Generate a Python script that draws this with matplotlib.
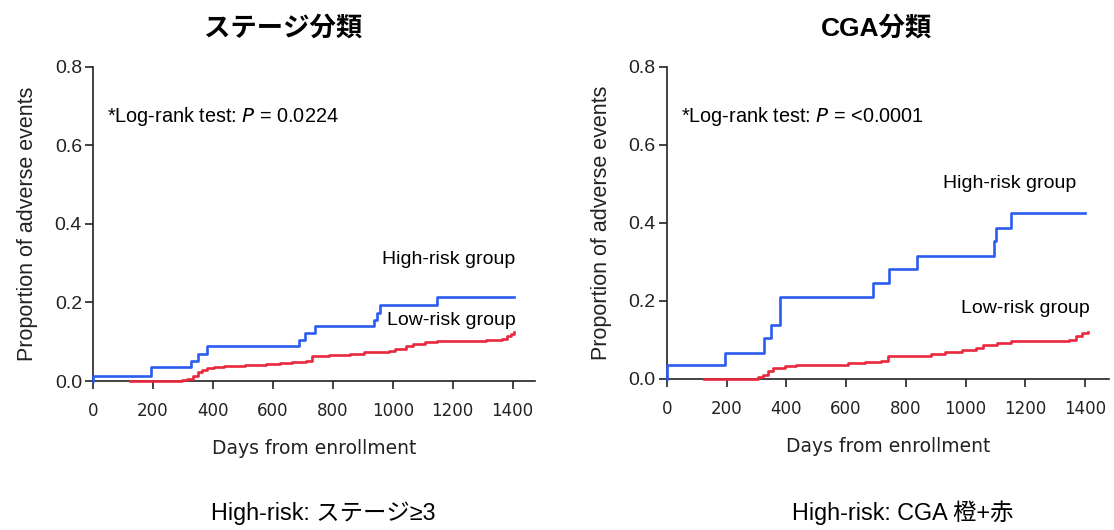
import numpy as np
import matplotlib
matplotlib.use("Agg")
import matplotlib.pyplot as plt

# ステージ分類
stage_high_days = [0, 0, 195, 327, 350, 379, 688, 708, 741, 939, 948, 957, 1147, 1406]
stage_high_prop = [0, 0.013, 0.036, 0.050, 0.068, 0.088, 0.104, 0.122, 0.141, 0.156, 0.173, 0.194, 0.215, 0.215]
stage_low_days = [125, 274, 297, 315, 332, 350, 362, 379, 402, 438, 508, 578, 624, 665, 712, 729,
                  788, 857, 904, 986, 1009, 1044, 1067, 1108, 1149, 1243, 1312, 1365, 1382, 1394, 1406]
stage_low_prop = [0, 0, 0.003, 0.006, 0.013, 0.022, 0.027, 0.033, 0.036, 0.039, 0.041, 0.043, 0.046, 0.049,
                  0.052, 0.064, 0.066, 0.069, 0.073, 0.076, 0.082, 0.088, 0.094, 0.099, 0.101, 0.103,
                  0.105, 0.108, 0.114, 0.119, 0.124]

# CGA分類
cga_high_days = [0, 0, 194, 324, 350, 379, 689, 742, 837, 1095, 1102, 1153, 1400]
cga_high_prop = [0, 0.036, 0.066, 0.105, 0.139, 0.209, 0.245, 0.283, 0.316, 0.353, 0.387, 0.424, 0.424]
cga_low_days = [124, 281, 304, 321, 339, 356, 397, 431, 489, 605, 663, 716, 739, 884, 930,
                988, 1035, 1058, 1104, 1151, 1186, 1348, 1371, 1390, 1411]
cga_low_prop = [0, 0, 0.005, 0.010, 0.020, 0.029, 0.032, 0.035, 0.037, 0.040, 0.043, 0.045, 0.059,
                0.065, 0.070, 0.073, 0.080, 0.087, 0.092, 0.096, 0.098, 0.101, 0.110, 0.117, 0.120]

x_ticks = [0, 200, 400, 600, 800, 1000, 1200, 1400]
y_ticks = [0.0, 0.2, 0.4, 0.6, 0.8]

BLUE = "#2b5cf0"
RED = "#e8283c"
JP = ["Liberation Sans", "Noto Sans CJK JP"]

fig = plt.figure(figsize=(11.14, 5.30), dpi=100)


def draw_panel(ax, high_d, high_p, low_d, low_p, p_text, high_xy, low_xy, xmax):
    ax.step(low_d, low_p, where="post", color=RED, lw=1.9, zorder=3, clip_on=False)
    ax.step(high_d, high_p, where="post", color=BLUE, lw=1.9, zorder=4, clip_on=False)
    ax.set_xlim(0, xmax)
    ax.set_ylim(0, 0.8)
    ax.set_xticks(x_ticks)
    ax.set_yticks(y_ticks)
    ax.set_yticklabels([f"{v:.1f}" for v in y_ticks], family="Liberation Sans", fontsize=14, color="#222222")
    ax.set_xticklabels([str(v) for v in x_ticks], family="DejaVu Sans", fontsize=12, color="#222222")
    ax.tick_params(direction="out", length=6, width=1.2, color="#222222")
    ax.tick_params(axis="y", pad=2)
    ax.tick_params(axis="x", pad=9)
    for s in ["top", "right"]:
        ax.spines[s].set_visible(False)
    for s in ["left", "bottom"]:
        ax.spines[s].set_linewidth(1.2)
        ax.spines[s].set_color("#222222")
    ax.set_xlabel("Days from enrollment", family="DejaVu Sans", fontsize=13.5, color="#222222", labelpad=14)
    ax.set_ylabel("Proportion of adverse events", family="Liberation Sans", fontsize=15.5, color="#222222",
                  labelpad=12)
    ax.text(47, 0.673, "*Log-rank test: $\\it{P}$ = " + p_text, family="Liberation Sans", fontsize=14.3,
            va="center", ha="left")
    ax.text(high_xy[0], high_xy[1], "High-risk group", family="Liberation Sans", fontsize=14,
            va="center", ha="right")
    ax.text(low_xy[0], low_xy[1], "Low-risk group", family="Liberation Sans", fontsize=14,
            va="center", ha="right")


ax1 = fig.add_axes([0.0835, 0.281, 0.3969, 0.593])
draw_panel(ax1, stage_high_days, stage_high_prop, stage_low_days, stage_low_prop, "0.0224",
           (1410, 0.31), (1410, 0.155), 1475)

ax2 = fig.add_axes([0.5987, 0.285, 0.3967, 0.589])
draw_panel(ax2, cga_high_days, cga_high_prop, cga_low_days, cga_low_prop, "<0.0001",
           (1372, 0.50), (1415, 0.18), 1480)

fig.text(283 / 1114, 1 - 28 / 530, "ステージ分類", family=JP, fontsize=19, fontweight="bold",
         ha="center", va="center")
fig.text(876 / 1114, 1 - 28 / 530, "CGA分類", family=JP, fontsize=19, fontweight="bold",
         ha="center", va="center")
fig.text(323 / 1114, 1 - 513 / 530, "High-risk: ステージ≥3", family=JP, fontsize=16.8,
         ha="center", va="center")
fig.text(903 / 1114, 1 - 513 / 530, "High-risk: CGA 橙+赤", family=JP, fontsize=16.8,
         ha="center", va="center")

fig.savefig("out.png", dpi=100)
